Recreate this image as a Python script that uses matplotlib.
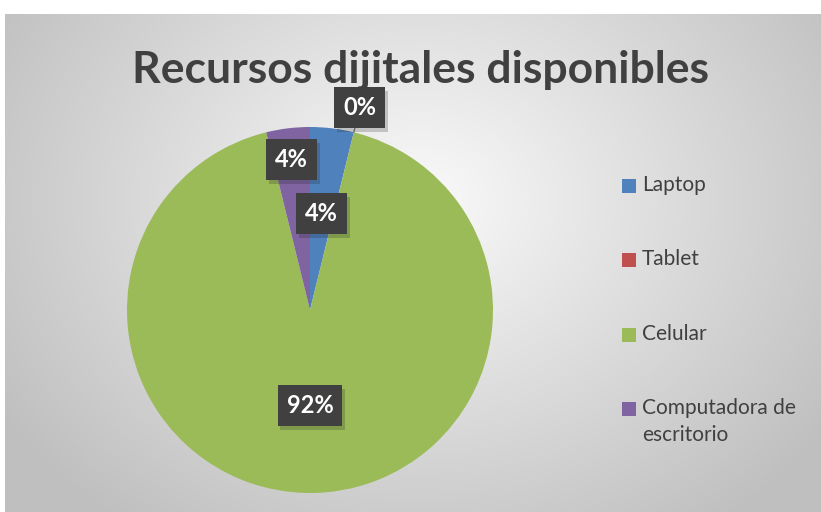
import matplotlib.pyplot as plt
import matplotlib.patheffects as pe
from matplotlib.patches import Rectangle
import numpy as np

categorias = ['Laptop', 'Tablet', 'Celular', 'Computadora de\nescritorio']
valores = [1, 0, 24, 1]
colores = ['#4F81BD', '#C0504D', '#9BBB59', '#8064A2']
etiquetas = ['4%', '0%', '92%', '4%']
dist_etiqueta = [0.53, 1.14, 0.52, 0.83]

W, H = 821, 512
fig = plt.figure(figsize=(W / 100, H / 100), dpi=100)
fig.patch.set_facecolor('white')

# fondo con degradado radial
bg = fig.add_axes([0, 0, 1, 1])
bg.set_xlim(0, W)
bg.set_ylim(H, 0)
bg.axis('off')
yy, xx = np.mgrid[14:H, 5:W]
d = np.sqrt(((xx - 420) / 520.0) ** 2 + ((yy - 200) / 420.0) ** 2)
g = np.clip(0.98 - 0.24 * d, 0.75, 0.98)
bg.imshow(np.dstack([g, g, g]), extent=(5, W, H, 14), aspect='auto', zorder=0)

bg.text(421, 70, 'Recursos dijitales disponibles', ha='center', va='center',
        fontsize=32, fontweight='bold', color='#404040', family='Lato')

# leyenda manual (cuadro alineado con la primera linea)
for i, (cat, col) in enumerate(zip(categorias, colores)):
    y = 186 + i * 74.3
    bg.add_patch(Rectangle((622, y - 7), 14, 14, facecolor=col, edgecolor='none'))
    bg.text(642, y - 11, cat, ha='left', va='top', fontsize=15, color='#404040',
            family='Lato', linespacing=1.45)

cx, cy, r = 310, 310, 183
ax = fig.add_axes([(cx - r) / W, (H - cy - r) / H, 2 * r / W, 2 * r / H])
wedges, _ = ax.pie(valores, colors=colores, startangle=90, counterclock=False,
                   wedgeprops=dict(linewidth=0))
ax.set_xlim(-1, 1)
ax.set_ylim(-1, 1)

for w, txt, dist in zip(wedges, etiquetas, dist_etiqueta):
    ang = np.deg2rad((w.theta1 + w.theta2) / 2)
    x, y = dist * np.cos(ang), dist * np.sin(ang)
    if dist > 1:
        ax.plot([np.cos(ang), 1.05 * np.cos(ang)], [np.sin(ang), 1.05 * np.sin(ang)],
                color='#7f7f7f', lw=1, clip_on=False)
    t = ax.text(x, y, txt, ha='center', va='center', fontsize=17, fontweight='bold',
                color='white', family='Lato', clip_on=False,
                bbox=dict(boxstyle='square,pad=0.38', facecolor='#404040', edgecolor='none'))
    t.get_bbox_patch().set_path_effects([pe.withSimplePatchShadow(offset=(2, -3), alpha=0.2)])

fig.savefig('out.png', dpi=100)
